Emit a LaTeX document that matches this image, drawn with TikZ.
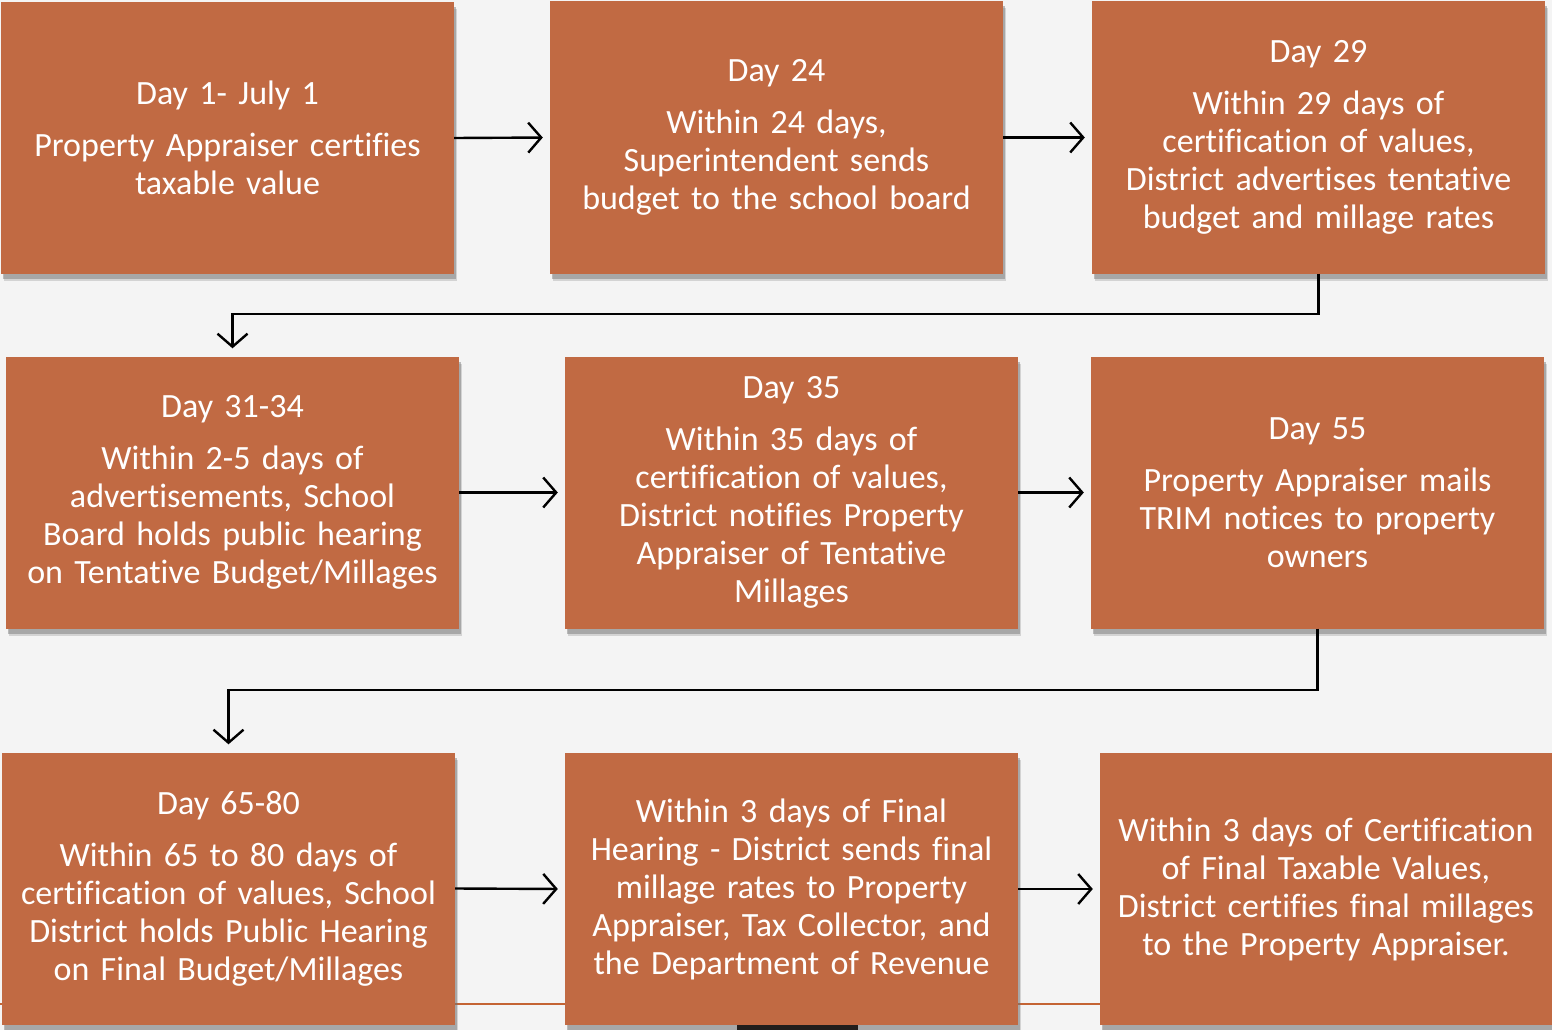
\documentclass[tikz,border=0pt]{standalone}
\usepackage{fontspec}
\setmainfont{Carlito}[Ligatures={NoCommon}, WordSpace=0.85]
\usetikzlibrary{arrows.meta}
\definecolor{bg}{RGB}{244,244,244}
\definecolor{boxc}{RGB}{193,106,67}
\definecolor{lineor}{RGB}{196,100,52}
\definecolor{barc}{RGB}{34,30,28}
\begin{document}
\begin{tikzpicture}[x=1pt,y=-1pt,
  stepbox/.style={fill=boxc, draw=none, minimum width=453pt, minimum height=272pt,
    inner sep=0pt, text width=450pt, align=center, text=white,
    font=\fontsize{34}{38}\selectfont},
  shadowbox/.style={fill=black!55, opacity=0.45, draw=none, minimum width=453pt, minimum height=272pt, inner sep=0pt},
  arr/.style={draw=black, line width=2.4pt, -{Straight Barb[length=13pt,width=30pt,line width=2.4pt]}}]
\useasboundingbox (0,0) rectangle (1552,1030);
\fill[bg] (0,0) rectangle (1552,1030);
% background decoration line
\draw[lineor, line width=2.2pt] (0,1004) -- (1552,1004);
% shadows
\foreach \x/\y in {227.5/138, 776.5/137.5, 1318.5/137.5, 232.5/492.5, 791.5/492.5, 1317.5/492.5, 228.5/888.5, 791.5/889, 1326/889}{
  \node[shadowbox] at (\x+2,\y+5) {};
  \node[shadowbox, opacity=0.25] at (\x+3,\y+7) {};
}
\fill[barc] (737,1025) rectangle (858,1030);
% boxes
\node[stepbox] (b1) at (227.5,138) {Day 1- July 1\\[14pt]Property Appraiser certifies\\taxable value};
\node[stepbox] (b2) at (776.5,137.5) {Day 24\\[14pt]Within 24 days,\\Superintendent sends\\budget to the school board};
\node[stepbox] (b3) at (1318.5,137.5) {Day 29\\[14pt]Within 29 days of\\certification of values,\\District advertises tentative\\budget and millage rates};
\node[stepbox] (b4) at (232.5,492.5) {Day 31-34\\[14pt]Within 2-5 days of\\advertisements, School\\Board holds public hearing\\on Tentative Budget/Millages};
\node[stepbox] (b5) at (791.5,492.5) {Day 35\\[14pt]Within 35 days of\\certification of values,\\District notifies Property\\Appraiser of Tentative\\Millages};
\node[stepbox] (b6) at (1317.5,492.5) {Day 55\\[14pt]Property Appraiser mails\\TRIM notices to property\\owners};
\node[stepbox] (b7) at (228.5,888.5) {Day 65-80\\[14pt]Within 65 to 80 days of\\certification of values, School\\District holds Public Hearing\\on Final Budget/Millages};
\node[stepbox] (b8) at (791.5,889) {Within 3 days of Final\\Hearing - District sends final\\millage rates to Property\\Appraiser, Tax Collector, and\\the Department of Revenue};
\node[stepbox, minimum width=452pt] (b9) at (1326,889) {Within 3 days of Certification\\of Final Taxable Values,\\District certifies final millages\\to the Property Appraiser.};
% connectors
\draw[arr, shorten >=7pt] (b1.east) -- (b2.west);
\draw[arr, shorten >=7pt] (b2.east) -- (b3.west);
\draw[arr, shorten >=8pt] (b3.south) -- ++(0,40) -| (b4.north);
\draw[arr, shorten >=7pt] (b4.east) -- (b5.west);
\draw[arr, shorten >=7pt] (b5.east) -- (b6.west);
\draw[arr, shorten >=8pt] (b6.south) -- ++(0,61) -| (b7.north);
\draw[arr, shorten >=7pt] (b7.east) -- (b8.west);
\draw[arr, shorten >=7pt] (b8.east) -- (b9.west);
\end{tikzpicture}
\end{document}
